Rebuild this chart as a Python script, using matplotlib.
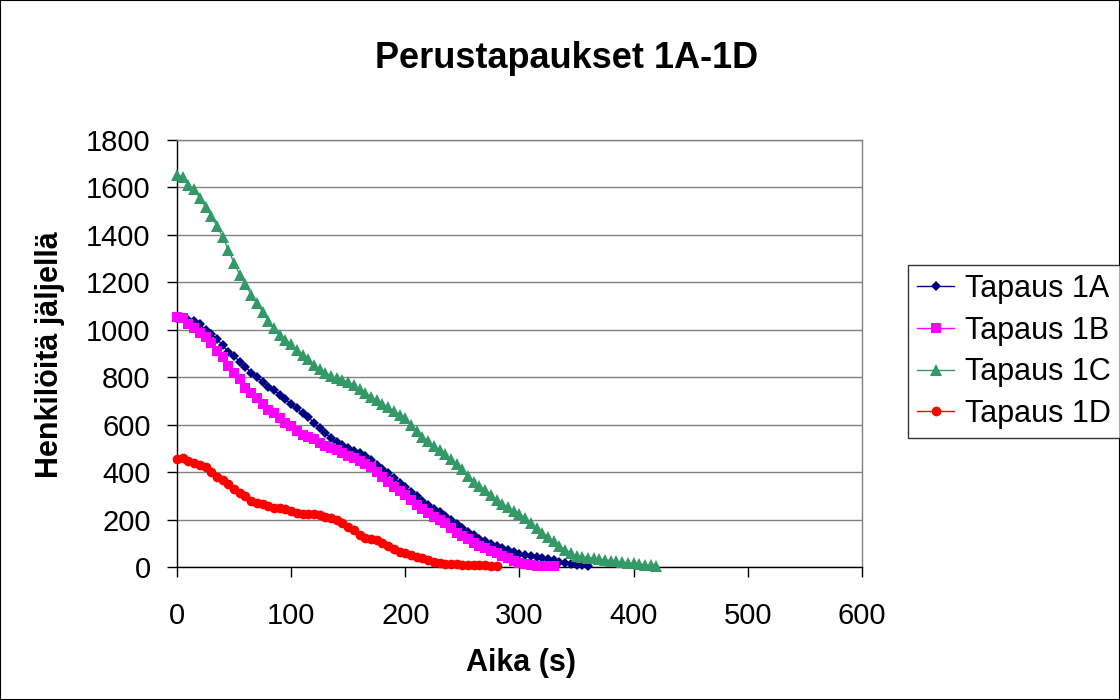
import numpy as np
import matplotlib
matplotlib.use("Agg")
import matplotlib.pyplot as plt
from matplotlib.patches import Rectangle

plt.rcParams['font.family'] = ['Liberation Sans', 'DejaVu Sans']

title = "Perustapaukset 1A-1D"
xlabel = "Aika (s)"
ylabel = "Henkilöitä jäljellä"
labels = ["Tapaus 1A", "Tapaus 1B", "Tapaus 1C", "Tapaus 1D"]
step = 5  # seconds between samples

tapaus_1a = [1050, 1050, 1042, 1035, 1025, 998, 982, 960, 936, 905, 889, 866, 845, 818, 800,
             781, 760, 748, 725, 707, 687, 669, 648, 631, 608, 585, 564, 543, 526, 514,
             503, 490, 479, 466, 452, 432, 412, 395, 374, 353, 336, 315, 298, 280, 260,
             245, 230, 215, 200, 180, 163, 148, 135, 120, 108, 98, 89, 80, 72, 63,
             56, 51, 46, 42, 38, 34, 28, 20, 15, 12, 10, 7, 4]
tapaus_1b = [1055, 1048, 1025, 1006, 985, 968, 943, 911, 884, 849, 817, 791, 755, 732, 711,
             687, 662, 648, 627, 608, 594, 575, 558, 548, 538, 524, 511, 500, 492, 481,
             470, 460, 448, 435, 420, 400, 381, 360, 339, 322, 304, 283, 263, 243, 229,
             212, 198, 185, 163, 145, 131, 117, 103, 89, 79, 69, 58, 46, 37, 27,
             18, 13, 9, 6, 5, 4, 3]
tapaus_1c = [1652, 1645, 1612, 1592, 1555, 1518, 1480, 1438, 1392, 1338, 1282, 1232, 1192, 1148, 1112,
             1076, 1036, 1006, 978, 958, 940, 915, 895, 875, 852, 833, 818, 805, 795, 788,
             780, 767, 750, 733, 718, 704, 688, 673, 656, 641, 627, 600, 575, 550, 531,
             510, 493, 476, 455, 434, 412, 384, 360, 342, 325, 304, 282, 266, 252, 234,
             224, 205, 185, 165, 145, 125, 108, 90, 73, 58, 46, 43, 40, 37, 33,
             30, 27, 24, 21, 18, 15, 13, 10, 7, 4]
tapaus_1d = [455, 458, 448, 440, 430, 420, 402, 381, 367, 349, 328, 311, 299, 277, 271,
             266, 258, 250, 247, 244, 236, 228, 224, 224, 222, 219, 212, 205, 198, 184,
             170, 156, 137, 124, 117, 113, 103, 89, 75, 65, 58, 51, 44, 37, 30,
             20, 15, 13, 12, 11, 10, 10, 9, 8, 7, 6, 5]

series = [tapaus_1a, tapaus_1b, tapaus_1c, tapaus_1d]
colors = ["#000080", "#FF00FF", "#339966", "#FF0000"]
markers = ["D", "s", "^", "o"]
msizes = [5.5, 7, 8, 7]

fig = plt.figure(figsize=(11.2, 7), dpi=100)
fig.patch.set_facecolor('white')
ax = fig.add_axes([0.158, 0.19, 0.6116, 0.61])

for vals, lab, c, m, ms in zip(series, labels, colors, markers, msizes):
    t = np.arange(len(vals)) * step
    ax.plot(t, vals, color=c, marker=m, markersize=ms, lw=1.0, label=lab,
            markeredgewidth=0, clip_on=False, zorder=3)

ax.set_xlim(0, 600)
ax.set_ylim(0, 1800)
ax.set_xticks(np.arange(0, 601, 100))
ax.set_yticks(np.arange(0, 1801, 200))
ax.yaxis.grid(True, color='#808080', lw=1.0)
ax.set_axisbelow(True)
for s in ['top', 'right']:
    ax.spines[s].set_color('#808080')
    ax.spines[s].set_linewidth(1.0)
for s in ['left', 'bottom']:
    ax.spines[s].set_color('black')
    ax.spines[s].set_linewidth(1.0)
ax.tick_params(axis='x', direction='out', length=7, width=1, labelsize=21, pad=18)
ax.tick_params(axis='y', direction='out', length=7, width=1, labelsize=21, pad=12)

fig.text(567/1120, 1 - 58/700, title, ha='center', va='center', fontsize=26, fontweight='bold')
fig.text(521/1120, 1 - 663/700, xlabel, ha='center', va='center', fontsize=22, fontweight='bold')
fig.text(50/1120, 1 - 355/700, ylabel, ha='center', va='center', fontsize=22,
         fontweight='bold', rotation=90)

leg = fig.legend(loc='upper left', bbox_to_anchor=(908/1120, 1 - 265/700),
                 fontsize=22, frameon=True, fancybox=False, edgecolor='black',
                 handlelength=1.2, handletextpad=0.35, labelspacing=0.38,
                 borderpad=0.3, borderaxespad=0, markerscale=1.0)
leg.get_frame().set_linewidth(1.0)

fig.add_artist(Rectangle((0, 0), 1, 1, transform=fig.transFigure, fill=False,
                         ec='black', lw=1.5))

fig.savefig("out.png", dpi=100)
